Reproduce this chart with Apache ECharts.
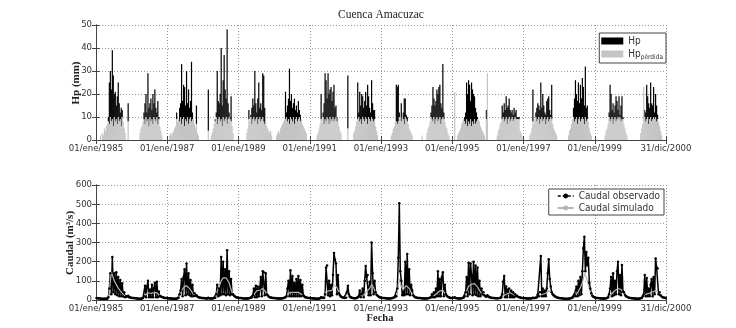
<!DOCTYPE html>
<html>
<head>
<meta charset="utf-8">
<script src="https://cdn.jsdelivr.net/npm/echarts@6.0.0/dist/echarts.min.js"></script>
<style>
  html, body { margin: 0; padding: 0; background: #fff; }
  #chart { width: 736px; height: 328px; }
</style>
</head>
<body>
<div id="chart"></div>
<script>
// una fila por año, 36 décadas (ene -> dic)
const years = [1985, 1986, 1987, 1988, 1989, 1990, 1991, 1992,
               1993, 1994, 1995, 1996, 1997, 1998, 1999, 2000];

const xTicks = ['01/ene/1985', '01/ene/1987', '01/ene/1989', '01/ene/1991',
                '01/ene/1993', '01/ene/1995', '01/ene/1997', '01/ene/1999', '31/dic/2000'];

// Hp (mm)
const hp = [
  [0,0,0,0,2,0,3,2,5,4,6,7, 10,25,30,22,39,28,20,21,15,19,25,16, 12,14,13,8,5,3,0,0,16,0,0,0],
  [0,0,0,0,0,0,0,0,3,5,6,8, 12,16,20,12,29,14,16,18,13,20,16,22, 14,12,17,10,6,4,2,0,0,0,0,0],
  [0,0,2,3,2,3,4,5,6,12,8,9, 14,16,33,17,24,23,15,30,16,22,14,17, 34,12,9,7,5,15,3,2,0,0,0,0],
  [0,0,0,0,0,22,0,0,2,3,5,7, 9,12,30,17,16,20,40,15,26,37,22,18, 48,16,12,10,19,6,3,0,0,0,0,0],
  [0,0,0,0,0,0,0,0,3,5,13,8, 11,14,18,15,30,16,12,18,25,14,16,13, 29,28,14,8,6,5,4,3,4,2,0,0],
  [0,0,2,3,4,3,5,6,7,8,9,21, 12,15,18,31,17,20,14,16,18,13,15,12, 17,13,11,9,7,6,5,4,3,0,0,0],
  [0,0,0,0,0,0,0,2,3,5,7,20, 9,12,16,29,26,18,29,20,22,23,17,21, 24,14,15,10,8,6,4,3,0,0,0,0],
  [0,0,28,0,0,0,0,0,3,4,6,8, 25,12,21,15,20,19,14,17,21,15,24,19, 14,12,26,16,13,13,6,4,2,0,0,0],
  [0,0,0,0,0,0,0,0,0,0,2,3, 5,6,8,24,23,24,12,9,16,10,12,18, 18,11,10,7,5,4,3,2,0,0,0,0],
  [0,0,0,0,0,2,0,0,0,0,3,5, 6,8,12,15,23,18,15,17,22,20,23,24, 16,14,33,12,8,6,5,3,2,0,0,0],
  [0,0,21,0,0,2,3,4,5,7,8,9, 10,12,25,20,26,24,17,25,22,20,19,14, 12,10,9,8,6,5,4,3,2,0,13,29],
  [0,0,0,0,0,0,0,0,0,2,4,5, 7,8,15,12,16,13,19,14,15,18,13,12, 13,11,14,12,13,10,10,10,4,3,2,0],
  [0,0,0,0,0,0,2,3,5,22,7,9, 12,14,16,15,13,25,14,20,15,12,11,17, 18,19,13,11,24,7,5,4,3,2,0,0],
  [0,0,0,0,0,0,0,0,0,2,4,5, 7,9,14,18,26,20,17,25,16,24,18,27, 23,15,32,14,15,8,5,3,2,0,0,0],
  [0,0,0,0,0,0,0,0,0,0,2,4, 5,7,12,24,20,13,16,12,15,19,17,13, 19,11,15,19,10,7,5,3,2,0,0,0],
  [0,0,0,0,0,0,0,0,0,0,3,5, 7,23,13,12,24,19,16,14,25,16,15,23, 12,20,15,11,8,6,4,2,0,0,0,0]
];

// Hp pérdida (mm)
const hpLoss = [
  [0,0,0,0,2,0,3,2,5,4,6,7, 8,7,10,8,9,6,10,8,9,7,10,8, 9,6,10,8,5,3,0,0,8,0,0,0],
  [0,0,0,0,0,0,0,0,3,5,6,8, 9,7,10,8,9,6,10,8,9,7,10,9, 8,10,7,9,6,4,2,0,0,0,0,0],
  [0,0,2,3,2,3,4,5,6,9,8,9, 8,10,7,9,10,6,9,8,10,7,9,10, 8,9,9,7,5,7,3,2,0,0,0,0],
  [0,0,0,0,0,4,0,0,2,3,5,7, 8,10,7,9,10,8,9,6,10,8,9,10, 7,9,10,9,8,6,3,0,0,0,0,0],
  [0,0,0,0,0,0,0,0,3,5,9,8, 10,7,9,10,8,9,10,7,9,10,8,9, 10,8,7,8,6,5,4,3,4,2,0,0],
  [0,0,2,3,4,3,5,6,7,8,9,9, 10,8,9,7,10,9,8,10,7,9,10,8, 9,10,8,9,7,6,5,4,3,0,0,0],
  [0,0,0,0,0,0,0,2,3,5,7,9, 9,10,7,9,8,10,9,7,10,8,9,10, 8,9,10,8,8,6,4,3,0,0,0,0],
  [0,0,5,0,0,0,0,0,3,4,6,8, 9,10,8,9,7,10,9,8,10,9,7,10, 9,8,10,9,8,9,6,4,2,0,0,0],
  [0,0,0,0,0,0,0,0,0,0,2,3, 5,6,8,8,7,8,10,9,8,10,9,7, 10,9,8,7,5,4,3,2,0,0,0,0],
  [0,0,0,0,0,2,0,0,0,0,3,5, 6,8,10,9,8,10,7,9,10,8,9,10, 7,9,10,9,8,6,5,3,2,0,0,0],
  [0,0,21,0,0,2,3,4,5,7,8,9, 8,7,9,6,8,7,9,6,8,7,9,7, 8,9,9,8,6,5,4,3,2,0,9,29],
  [0,0,0,0,0,0,0,0,0,2,4,5, 7,8,9,10,8,9,10,7,9,10,8,9, 10,8,9,10,9,9,9,9,4,3,2,0],
  [0,0,0,0,0,0,2,3,5,8,7,9, 10,8,9,10,7,9,10,8,9,10,7,9, 10,8,9,10,9,7,5,4,3,2,0,0],
  [0,0,0,0,0,0,0,0,0,2,4,5, 7,9,10,8,9,10,7,9,10,8,9,10, 9,7,10,8,9,8,5,3,2,0,0,0],
  [0,0,0,0,0,0,0,0,0,0,2,4, 5,7,10,8,9,10,7,9,10,8,9,10, 9,10,8,9,9,7,5,3,2,0,0,0],
  [0,0,0,0,0,0,0,0,0,0,3,5, 7,23,10,8,9,10,7,9,10,8,9,10, 9,10,8,9,8,6,4,2,0,0,0,0]
];

// Caudal observado (m3/s)
const qObs = [
  [10,9,9,8,8,7,7,7,6,6,6,7, 15,60,140,30,225,40,140,30,145,25,120,20, 104,20,87,18,40,15,20,18,22,15,13,12],
  [11,10,10,9,9,8,8,7,7,7,8,10, 20,75,15,70,100,15,55,15,80,15,60,90, 15,95,15,45,20,20,16,14,12,11,10,10],
  [9,9,8,8,8,7,7,7,7,8,9,12, 30,50,110,20,120,160,25,190,30,140,25,105, 20,80,20,35,22,25,18,15,13,12,11,10],
  [10,9,9,8,8,12,9,8,8,8,9,10, 12,30,80,20,60,25,225,30,200,30,160,25, 260,30,150,25,110,30,30,22,18,15,13,12],
  [11,10,10,9,9,8,8,8,8,8,9,10, 12,15,25,60,15,75,15,70,20,60,120,20, 150,145,25,140,30,25,18,15,13,12,11,10],
  [10,9,9,8,8,8,8,8,9,10,12,15, 20,60,100,20,155,20,125,20,90,20,110,20, 125,20,105,20,80,25,18,15,13,12,11,10],
  [10,9,9,8,8,8,7,7,7,8,9,15, 12,10,12,30,170,180,25,100,20,80,25,130, 245,210,190,30,130,35,25,18,15,13,12,11],
  [12,40,75,30,18,14,12,10,9,9,9,10, 15,20,50,15,30,60,15,100,177,120,130,25, 95,25,300,140,30,100,40,28,22,18,15,13],
  [12,11,10,10,9,9,8,8,8,8,9,10, 12,15,20,20,60,220,505,150,100,25,45,25, 200,30,240,30,160,25,80,50,25,18,15,13],
  [12,11,10,10,9,9,8,8,8,8,8,9, 10,12,15,30,15,40,15,60,20,150,20,110, 20,120,145,20,80,30,22,17,14,12,11,10],
  [10,12,15,11,9,9,8,8,8,9,10,12, 20,40,120,20,195,30,190,130,25,200,30,180, 25,170,20,100,20,60,30,40,25,20,17,25],
  [20,15,13,12,11,10,10,9,9,9,9,10, 11,14,30,95,125,15,70,15,55,60,15,50, 15,40,15,30,20,22,17,15,13,12,11,10],
  [10,9,9,8,8,8,8,8,9,12,10,10, 12,15,30,20,40,230,20,60,20,50,20,60, 140,212,110,70,40,30,25,20,17,14,12,11],
  [10,9,9,8,8,7,7,7,7,7,8,9, 10,12,20,30,20,70,20,100,25,120,30,150, 270,330,150,250,180,220,90,60,35,22,17,14],
  [12,11,10,10,9,9,8,8,8,8,8,9, 10,15,30,60,120,20,140,25,100,30,150,200, 30,130,25,183,45,40,28,20,17,14,12,11],
  [10,9,9,8,8,8,7,7,7,8,9,10, 20,30,130,20,115,20,60,20,80,110,20,120, 30,217,170,165,30,40,25,18,15,13,12,11]
];

// Caudal simulado (m3/s)
const qSim = [
  [8,8,7,7,6,6,6,5,5,5,5,6, 10,40,100,145,130,115,100,90,80,70,62,55, 48,42,36,30,25,20,17,15,14,12,11,10],
  [9,9,8,8,7,7,7,6,6,6,6,7, 12,25,30,35,38,35,33,35,38,36,38,40, 40,38,33,28,22,18,15,13,11,10,9,9],
  [8,8,7,7,7,6,6,6,6,6,7,8, 15,30,50,60,65,70,72,75,70,65,60,52, 45,38,30,25,20,17,15,13,11,10,9,9],
  [8,8,7,7,7,9,8,7,7,7,7,8, 10,20,45,60,70,85,100,110,115,120,118,115, 120,110,90,70,55,40,28,20,16,13,12,11],
  [9,9,8,8,7,7,7,6,6,6,7,8, 9,11,15,25,35,42,48,50,50,52,55,58, 60,58,50,42,34,26,20,15,12,10,9,9],
  [8,8,7,7,7,7,7,7,7,8,9,11, 15,25,32,38,42,42,40,40,42,40,40,42, 40,38,35,30,25,20,15,12,10,9,9,8],
  [8,8,7,7,7,6,6,6,6,6,7,10, 9,9,10,20,45,55,50,48,45,45,50,60, 80,90,80,65,55,40,30,22,17,14,12,11],
  [10,15,20,18,14,12,10,9,8,8,8,8, 10,14,20,22,22,25,28,30,40,45,50,55, 60,70,80,75,65,55,40,30,22,17,14,12],
  [10,9,9,8,8,7,7,7,7,7,7,8, 9,10,12,15,30,80,110,90,70,60,55,50, 60,75,80,70,60,50,40,32,25,18,15,12],
  [10,9,9,8,8,7,7,7,7,6,6,7, 8,9,10,15,18,22,25,30,35,42,45,48, 50,50,50,42,35,28,20,15,12,10,9,9],
  [8,9,10,9,8,7,7,7,7,7,8,9, 14,25,45,60,72,80,82,82,80,82,85,82, 75,68,60,50,42,35,28,22,18,15,13,14],
  [13,12,11,10,9,9,8,8,8,8,8,8, 9,10,14,20,25,28,30,33,36,40,38,36, 33,30,27,24,20,17,15,13,12,11,10,9],
  [8,8,7,7,7,7,7,7,7,8,8,8, 9,10,14,18,22,28,30,30,30,32,35,38, 42,48,50,45,38,30,24,18,15,12,11,10],
  [8,8,7,7,6,6,6,6,6,6,6,7, 8,9,12,16,22,30,38,45,55,65,75,90, 110,140,135,120,100,80,60,42,30,22,17,14],
  [10,9,9,8,8,7,7,7,7,6,6,7, 8,10,15,22,30,35,40,45,50,52,55,60, 60,58,55,50,45,35,25,18,14,11,10,9],
  [8,8,7,7,7,6,6,6,6,6,7,8, 12,20,28,30,32,32,34,36,38,40,42,45, 48,50,50,45,38,30,22,17,14,12,10,9]
];

// x = años desde 01/ene/1985, cada década en su centro
const xOf = (i, d) => i + (d + 0.5) / 36;
const toPairs = (rows) => {
  const out = [];
  rows.forEach((row, i) => row.forEach((v, d) => out.push([xOf(i, d), v])));
  return out;
};
// barras [x, base, tope]: gris de 0 a la pérdida, negro de la pérdida a Hp
const lossBars = [];
const hpBars = [];
hp.forEach((row, i) => row.forEach((v, d) => {
  const l = hpLoss[i][d];
  if (l > 0) lossBars.push([xOf(i, d), 0, l]);
  if (v > l) hpBars.push([xOf(i, d), l, v]);
}));

const barItem = (color) => (params, api) => {
  const lo = api.coord([api.value(0), api.value(1)]);
  const hi = api.coord([api.value(0), api.value(2)]);
  return {
    type: 'rect',
    shape: { x: lo[0] - 0.6, y: hi[1], width: 1.2, height: lo[1] - hi[1] },
    style: { fill: color }
  };
};

const sans = '"Liberation Sans Narrow", "DejaVu Sans Condensed", "Liberation Sans", sans-serif';
const serif = '"Liberation Serif", "DejaVu Serif", serif';
const axisCol = '#444';
const gridLine = { show: true, lineStyle: { color: '#999', type: [1, 2], width: 1 } };

const makeX = (gridIndex) => ({
  type: 'value', gridIndex, min: 0, max: 16, interval: 2,
  axisLine: { lineStyle: { color: axisCol } },
  axisTick: { inside: true, length: 4, lineStyle: { color: axisCol } },
  axisLabel: {
    color: '#333', fontSize: 9.5, fontFamily: sans, margin: 4,
    showMinLabel: true, showMaxLabel: true,
    formatter: (v) => xTicks[v / 2]
  },
  splitLine: gridLine
});
const makeXTop = (gridIndex) => ({
  type: 'value', gridIndex, min: 0, max: 16, interval: 2, position: 'top',
  axisLine: { lineStyle: { color: axisCol } },
  axisTick: { inside: true, length: 4, lineStyle: { color: axisCol } },
  axisLabel: { show: false }, splitLine: { show: false }
});
const makeY = (gridIndex, max, interval) => ({
  type: 'value', gridIndex, min: 0, max, interval,
  axisLine: { show: true, lineStyle: { color: axisCol } },
  axisTick: { show: true, inside: true, length: 4, lineStyle: { color: axisCol } },
  axisLabel: { color: '#333', fontSize: 9.5, fontFamily: sans, margin: 4 },
  splitLine: gridLine
});
const makeYRight = (gridIndex, max, interval) => ({
  type: 'value', gridIndex, min: 0, max, interval, position: 'right',
  axisLine: { show: true, lineStyle: { color: axisCol } },
  axisTick: { show: true, inside: true, length: 4, lineStyle: { color: axisCol } },
  axisLabel: { show: false }, splitLine: { show: false }
});

const chart = echarts.init(document.getElementById('chart'), null, { renderer: 'canvas' });

chart.setOption({
  animation: false,
  backgroundColor: '#fff',
  grid: [
    { left: 96, right: 70, top: 25, height: 115 },
    { left: 96, right: 70, top: 185, height: 115 }
  ],
  xAxis: [makeX(0), makeX(1), makeXTop(0), makeXTop(1)],
  yAxis: [makeY(0, 50, 10), makeY(1, 600, 100), makeYRight(0, 50, 10), makeYRight(1, 600, 100)],
  legend: [
    {
      data: ['Hp', 'Hp pérdida'], orient: 'vertical', right: 70, top: 33,
      icon: 'rect', itemWidth: 22, itemHeight: 7, itemGap: 3,
      padding: [3, 3, 2, 2], backgroundColor: '#fff', borderColor: '#444', borderWidth: 1,
      formatter: (name) => name === 'Hp' ? '{a|Hp}' : '{a|Hp}{b|pérdida}',
      textStyle: {
        color: '#333', fontFamily: sans, fontSize: 10,
        rich: {
          a: { fontSize: 10, fontFamily: sans, color: '#333' },
          b: { fontSize: 6.5, fontFamily: sans, color: '#333', padding: [7, 0, 0, 0] }
        }
      }
    },
    {
      data: [
        { name: 'Caudal observado', lineStyle: { type: [3, 2], width: 1.5 } },
        { name: 'Caudal simulado' }
      ],
      orient: 'vertical', right: 72, top: 189,
      itemWidth: 16, itemHeight: 6, itemGap: 2,
      padding: [2, 4, 2, 8], backgroundColor: '#fff', borderColor: '#444', borderWidth: 1,
      textStyle: { color: '#333', fontFamily: sans, fontSize: 10 }
    }
  ],
  graphic: [
    { type: 'text', x: 381, y: 15,
      style: { text: 'Cuenca Amacuzac', fill: '#222', font: '11.5px ' + serif,
               textAlign: 'center', textVerticalAlign: 'middle' } },
    { type: 'text', x: 76, y: 83, rotation: Math.PI / 2,
      style: { text: 'Hp (mm)', fill: '#222', font: 'bold 11px ' + serif,
               textAlign: 'center', textVerticalAlign: 'middle' } },
    { type: 'text', x: 70, y: 243, rotation: Math.PI / 2,
      style: { text: 'Caudal (m³/s)', fill: '#222', font: 'bold 11px ' + serif,
               textAlign: 'center', textVerticalAlign: 'middle' } },
    { type: 'text', x: 380, y: 318,
      style: { text: 'Fecha', fill: '#222', font: 'bold 10.5px ' + serif,
               textAlign: 'center', textVerticalAlign: 'middle' } }
  ],
  series: [
    {
      name: 'Hp', type: 'custom', xAxisIndex: 0, yAxisIndex: 0, clip: true,
      data: hpBars, encode: { x: 0, y: [1, 2] },
      renderItem: barItem('#000'), itemStyle: { color: '#000' }
    },
    {
      name: 'Hp pérdida', type: 'custom', xAxisIndex: 0, yAxisIndex: 0, clip: true,
      data: lossBars, encode: { x: 0, y: [1, 2] },
      renderItem: barItem('#c4c4c4'), itemStyle: { color: '#c4c4c4' }
    },
    {
      name: 'Caudal observado', type: 'line', xAxisIndex: 1, yAxisIndex: 1,
      data: toPairs(qObs), symbol: 'circle', symbolSize: 2.5, showAllSymbol: true,
      itemStyle: { color: '#000' },
      lineStyle: { color: '#000', width: 1.5 }
    },
    {
      name: 'Caudal simulado', type: 'line', xAxisIndex: 1, yAxisIndex: 1,
      data: toPairs(qSim), showSymbol: false, symbol: 'none',
      itemStyle: { color: '#b5b5b5' },
      lineStyle: { color: '#b5b5b5', width: 1.2 }
    }
  ]
});
</script>
</body>
</html>
